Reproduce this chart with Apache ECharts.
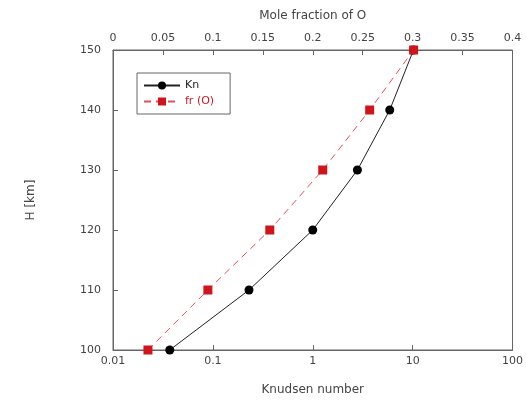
<!DOCTYPE html>
<html>
<head>
<meta charset="utf-8">
<script src="https://cdn.jsdelivr.net/npm/echarts@6/dist/echarts.min.js"></script>
<style>
  html, body { margin: 0; padding: 0; background: #fff; }
  #chart { width: 526px; height: 401px; }
</style>
</head>
<body>
<div id="chart"></div>
<script>
// heights in km
var heights = [100, 110, 120, 130, 140, 150];
// Knudsen number (bottom, log axis)
var knudsen = [0.037, 0.23, 1.0, 2.8, 5.9, 10.2];
// mole fraction of O (top axis)
var moleFrac = [0.035, 0.095, 0.157, 0.21, 0.257, 0.301];
var logTicks = ['0.01', '0.1', '1', '10', '100'];

var chart = echarts.init(document.getElementById('chart'));

var axisGray = '#666';
var txt = '#444';
var font = 'DejaVu Sans';

function pairs(xs) {
  var out = [];
  for (var i = 0; i < heights.length; i++) out.push([xs[i], heights[i]]);
  return out;
}

chart.setOption({
  animation: false,
  textStyle: { fontFamily: font },
  grid: {
    left: 113, right: 10, top: 50, bottom: 51,
    show: true, borderColor: axisGray, borderWidth: 1
  },
  legend: {
    left: 137, top: 73,
    orient: 'vertical',
    itemWidth: 36, itemHeight: 10, itemGap: 5,
    padding: [7, 16, 7, 6],
    borderColor: axisGray, borderWidth: 1,
    textStyle: { fontSize: 11, fontFamily: font },
    data: [
      { name: 'Kn', textStyle: { color: '#222' } },
      { name: 'fr (O)', textStyle: { color: '#d0141c' } }
    ]
  },
  xAxis: [{
    type: 'log', logBase: 10, min: 0.01, max: 100,
    position: 'bottom',
    name: 'Knudsen number', nameLocation: 'middle', nameGap: 34,
    nameTextStyle: { color: txt, fontSize: 12, fontFamily: font },
    axisLine: { lineStyle: { color: axisGray } },
    axisTick: { inside: true, length: 5, lineStyle: { color: axisGray } },
    minorTick: { show: false },
    splitLine: { show: false },
    axisLabel: {
      color: txt, fontSize: 11, margin: 6,
      formatter: function (v) {
        var k = Math.round(Math.log10(v)) + 2;
        return logTicks[k] || '';
      }
    }
  }, {
    type: 'value', min: 0, max: 0.4, interval: 0.05,
    position: 'top',
    name: 'Mole fraction of O', nameLocation: 'middle', nameGap: 28,
    nameTextStyle: { color: txt, fontSize: 12, fontFamily: font },
    axisLine: { lineStyle: { color: axisGray } },
    axisTick: { inside: true, length: 5, lineStyle: { color: axisGray } },
    splitLine: { show: false },
    axisLabel: {
      color: txt, fontSize: 11, margin: 6,
      formatter: function (v) { return String(+v.toFixed(2)); }
    }
  }],
  yAxis: {
    type: 'value', min: 100, max: 150, interval: 10,
    name: 'H [km]', nameLocation: 'middle', nameGap: 76, nameRotate: 90,
    nameTextStyle: { color: txt, fontSize: 12, fontFamily: font },
    axisLine: { show: true, lineStyle: { color: axisGray } },
    axisTick: { show: true, inside: true, length: 5, lineStyle: { color: axisGray } },
    splitLine: { show: false },
    axisLabel: { color: txt, fontSize: 11, margin: 12 }
  },
  series: [{
    name: 'Kn', type: 'line', xAxisIndex: 0,
    data: pairs(knudsen),
    symbol: 'circle', symbolSize: 9,
    itemStyle: { color: '#000' },
    lineStyle: { color: '#222', width: 1 }
  }, {
    name: 'fr (O)', type: 'line', xAxisIndex: 1,
    data: pairs(moleFrac),
    symbol: 'rect', symbolSize: 9,
    itemStyle: { color: '#d0141c' },
    lineStyle: { color: '#e0505a', width: 1, type: [7, 5] }
  }]
});
</script>
</body>
</html>
